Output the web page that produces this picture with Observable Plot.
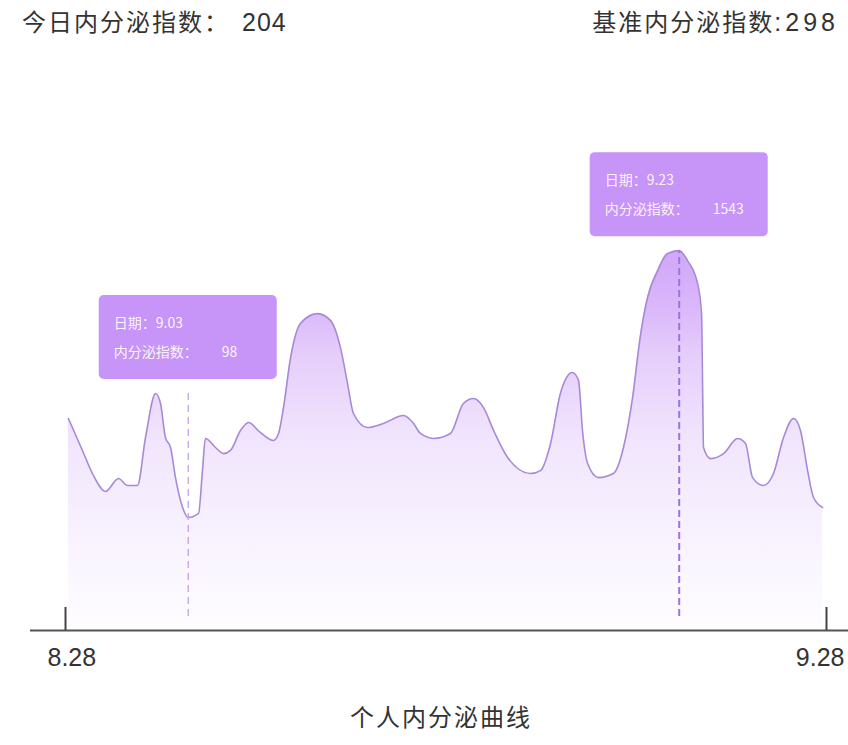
<!DOCTYPE html>
<html>
<head>
<meta charset="utf-8">
<script src="https://cdn.jsdelivr.net/npm/d3@7"></script>
<script src="https://cdn.jsdelivr.net/npm/@observablehq/plot@0.6"></script>
<style>
  html, body { margin: 0; padding: 0; background: #fff; }
  body { width: 848px; height: 745px; overflow: hidden; font-family: "Noto Sans CJK SC", sans-serif; color: #333; }
  #head { position: relative; height: 62px; }
  #head > span { position: absolute; white-space: nowrap; top: 6px; font-size: 24px; line-height: 30px; letter-spacing: 2px; }
  #head .num { font-family: "Liberation Sans Narrow", "Liberation Sans", sans-serif; font-size: 25px; letter-spacing: 0; }
  #today { left: 22px; }
  #today .num { margin-left: 12px; letter-spacing: 1px; }
  #base { right: 9px; }
  #base .num { letter-spacing: 4px; }
  #chart svg { display: block; }
  #caption { height: 60px; line-height: 62px; text-align: center; padding-left: 34px; font-size: 24px; letter-spacing: 2px; color: #333; }
</style>
</head>
<body>
<div id="head">
  <span id="today"></span>
  <span id="base"></span>
</div>
<div id="chart"></div>
<div id="caption"></div>
<script>
// Daily endocrine index, day offsets counted from 8.28
const days = [
  0.12, 0.69, 1.10, 1.63, 2.16, 2.53, 2.93, 3.26, 3.67, 3.87,
  4.07, 4.28, 4.48, 4.77, 5.00, 5.42, 5.58, 5.70, 6.11, 6.44,
  6.72, 7.13, 7.46, 7.90, 8.47, 8.68, 8.88, 9.17, 9.57, 10.27,
  10.80, 11.20, 11.49, 11.73, 12.30, 12.95, 13.77, 14.18, 14.46, 14.99,
  15.68, 16.21, 16.62, 17.03, 17.44, 18.01, 18.94, 19.35, 19.76, 20.16,
  20.65, 20.90, 21.06, 21.27, 21.71, 22.32, 22.73, 23.10, 23.42, 23.71,
  24.12, 24.52, 25.00, 25.34, 25.75, 25.91, 25.95, 25.99, 26.28, 26.81,
  27.38, 27.70, 27.99, 28.43, 28.84, 29.25, 29.66, 29.94, 30.23, 30.47,
  30.84
];
const values = [
  634, 461, 336, 239, 309, 271, 271, 531, 769, 715,
  531, 477, 314, 152, 98, 120, 352, 526, 477, 444,
  461, 569, 612, 563, 515, 553, 693, 964, 1148, 1202,
  1164, 1018, 823, 661, 585, 607, 650, 607, 553, 526,
  553, 715, 742, 693, 569, 423, 336, 352, 499, 769,
  883, 839, 569, 390, 314, 336, 477, 747, 1083, 1289,
  1435, 1527, 1543, 1489, 1364, 1202, 839, 477, 417, 444,
  526, 499, 314, 271, 336, 531, 634, 569, 352, 206,
  152
];

// Axis ticks
const tickDays = [0, 31];
const tickLabels = ["8.28", "9.28"];

// Highlighted days with their readouts
const markDays = [5, 25];
const markDates = ["9.03", "9.23"];
const markValues = [98, 1543];

// Header figures
const todayLabel = "今日内分泌指数：";
const todayIndex = 204;
const baseLabel = "基准内分泌指数";
const baseIndex = 298;
const captionText = "个人内分泌曲线";
const dateLabel = "日期：";
const valueLabel = "内分泌指数：";

// ---- header and caption ----
d3.select("#today").html(`${todayLabel}<span class="num">${todayIndex}</span>`);
d3.select("#base").html(`${baseLabel}<span class="num">:${baseIndex}</span>`);
d3.select("#caption").text(captionText);

// ---- chart ----
const series = days.map((d, i) => ({day: d, value: values[i]}));
const Y_MIN = -514, Y_MAX = 2486;
const W = 848, H = 623, MT = 14, MB = 55, ML = 30, MR = 0;
const frameH = H - MT - MB;
const TICK_LEN = 23;
const GAP = 14;

// highest reading close to each highlighted day, used to float the readout above the curve
const localMax = markDays.map(md =>
  d3.max(series.filter(p => Math.abs(p.day - md) <= 1.5), p => p.value));
const peakIdx = d3.maxIndex(markValues);
const marks = markDays.map((d, i) => i);

const plot = Plot.plot({
  width: W, height: H,
  marginTop: MT, marginBottom: MB, marginLeft: ML, marginRight: MR,
  x: {domain: [tickDays[0], tickDays[1]], range: [65, 826], axis: null},
  y: {domain: [Y_MIN, Y_MAX], axis: null},
  style: {background: "transparent", fontFamily: "'Liberation Sans', 'Noto Sans CJK SC', sans-serif", color: "#333"},
  marks: [
    Plot.areaY(series, {x: "day", y1: Y_MIN, y2: "value", curve: "monotone-x", fill: "url(#areaFade)"}),
    Plot.lineY(series, {x: "day", y: "value", curve: "monotone-x", stroke: "#a68ad8", strokeWidth: 1.6}),
    // guide lines
    Plot.ruleX(marks.filter(i => i !== peakIdx), {
      x: i => markDays[i], y1: Y_MIN, y2: i => localMax[i],
      insetTop: -GAP, insetBottom: 5,
      stroke: "#c4a0ef", strokeWidth: 1.3, strokeDasharray: "7,5"
    }),
    Plot.ruleX(marks.filter(i => i === peakIdx), {
      x: i => markDays[i], y1: Y_MIN, y2: i => localMax[i],
      insetTop: -GAP,
      stroke: "#9c74e0", strokeWidth: 2, strokeDasharray: "7,4"
    }),
    // baseline and ticks
    Plot.ruleY([Y_MIN], {stroke: "#555", strokeWidth: 2}),
    Plot.ruleX(tickDays, {insetTop: frameH - TICK_LEN, stroke: "#444", strokeWidth: 2}),
    Plot.text([0], {x: () => tickDays[0], y: Y_MIN, text: () => tickLabels[0],
      textAnchor: "start", dx: -18, dy: 27, fontSize: 25, fill: "#333"}),
    Plot.text([1], {x: () => tickDays[1], y: Y_MIN, text: () => tickLabels[1],
      textAnchor: "end", dx: 18, dy: 27, fontSize: 25, fill: "#333"})
  ]
});

const svg = d3.select(plot);
const grad = svg.insert("defs", ":first-child")
  .append("linearGradient")
  .attr("id", "areaFade")
  .attr("x1", 0).attr("y1", 0).attr("x2", 0).attr("y2", 1);
[[0, "#d1a6f8"], [0.15, "#dab7fa"], [0.28, "#e6cefb"], [0.5, "#f1e5fd"], [0.75, "#f8f2fe"], [1, "#fefdff"]]
  .forEach(([o, c]) => grad.append("stop").attr("offset", o).attr("stop-color", c));

// readout boxes
const sx = plot.scale("x"), sy = plot.scale("y");
const BW = 178, BH = 84;
const tips = svg.append("g")
  .attr("font-family", "'Noto Sans CJK SC', sans-serif")
  .attr("font-size", 14)
  .attr("text-anchor", "start");
marks.forEach(i => {
  const cx = sx.apply(markDays[i]);
  const bottom = sy.apply(localMax[i]) - GAP;
  const left = cx - BW / 2, top = bottom - BH;
  tips.append("rect").attr("x", left).attr("y", top).attr("width", BW).attr("height", BH)
    .attr("rx", 5).attr("fill", "#c794f7");
  tips.append("text").attr("x", left + 15).attr("y", top + 28).attr("dy", "0.35em")
    .attr("fill", "#fff").attr("fill-opacity", 0.92).text(dateLabel + markDates[i]);
  const t2 = tips.append("text").attr("x", left + 15).attr("y", top + 57).attr("dy", "0.35em")
    .attr("fill", "#fff").attr("fill-opacity", 0.92);
  t2.append("tspan").text(valueLabel);
  t2.append("tspan").attr("dx", 24).text(markValues[i]);
});

document.getElementById("chart").append(plot);
</script>
</body>
</html>
